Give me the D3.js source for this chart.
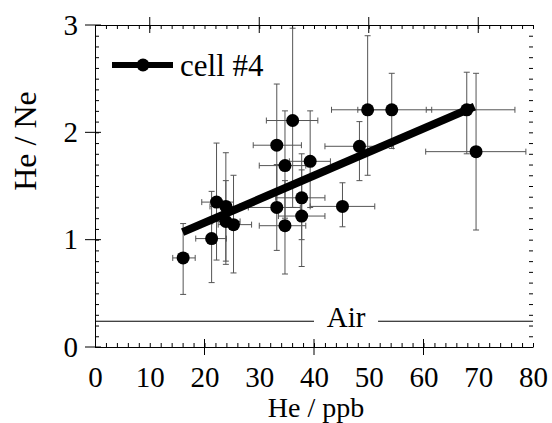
<!DOCTYPE html>
<html>
<head>
<meta charset="utf-8">
<title>He / Ne vs He</title>
<script src="https://d3js.org/d3.v7.min.js"></script>
<style>
  body { margin: 0; background: #fff; }
</style>
</head>
<body>
<svg id="chart" width="552" height="423" style="font-family: 'Liberation Serif', 'DejaVu Serif', serif;"></svg>
<script>
  // data (cell #4)
  let hePpb  = [16.1, 21.3, 22.2, 23.9, 23.9, 25.3, 33.2, 36.1, 34.7, 39.3, 37.75, 33.2, 37.75, 34.7, 45.2, 48.3, 49.8, 54.2, 67.9, 69.6];
  let heNe   = [0.83, 1.01, 1.35, 1.31, 1.17, 1.14, 1.88, 2.11, 1.69, 1.73, 1.39, 1.30, 1.22, 1.13, 1.31, 1.87, 2.21, 2.21, 2.21, 1.82];
  let xLow   = [14.2, 18.4, 19.5, 21.0, 21.5, 22.5, 28.9, 31.3, 30.0, 35.5, 33.0, 28.0, 33.5, 30.0, 39.3, 42.0, 43.2, 48.0, 60.5, 60.4];
  let xHigh  = [18.3, 24.0, 25.3, 26.5, 26.5, 28.6, 37.7, 40.7, 38.5, 43.0, 42.0, 37.5, 42.0, 38.5, 51.1, 54.5, 55.0, 61.5, 76.7, 78.7];
  let yLow   = [0.49, 0.60, 0.81, 0.77, 0.80, 0.69, 1.30, 1.30, 1.20, 1.30, 1.00, 0.90, 0.75, 0.68, 1.12, 1.55, 1.60, 1.85, 1.80, 1.09];
  let yHigh  = [1.15, 1.45, 1.90, 1.81, 1.55, 1.60, 2.45, 2.97, 2.20, 2.20, 1.80, 1.70, 1.65, 1.55, 1.53, 2.10, 2.90, 2.55, 2.56, 2.55];

  // fitted line end points
  let fitX = [16.0, 69.3];
  let fitY = [1.07, 2.24];

  // air value
  let airRatio = 0.24;
  let airGap = [40, 51.7];

  let xTicks = [0, 10, 20, 30, 40, 50, 60, 70, 80];
  let yTicks = [0, 1, 2, 3];

  const serif = "'Liberation Serif', 'DejaVu Serif', serif";

  let svg = d3.select("#chart");
  let margin = { top: 25, right: 19, bottom: 76, left: 95 };
  let plotWidth = 552 - margin.left - margin.right;
  let plotHeight = 423 - margin.top - margin.bottom;

  let x = d3.scaleLinear().domain([0, 80]).range([0, plotWidth]);
  let y = d3.scaleLinear().domain([0, 3]).range([plotHeight, 0]);

  let plot = svg.append("g").attr("transform", translate(margin.left, margin.top));

  // minor ticks all round
  let minorX = d3.range(0, 80.01, 2);
  let minorY = d3.range(0, 3.001, 0.1);

  plot.append("g").attr("transform", translate(0, plotHeight))
    .call(d3.axisBottom(x).tickValues(minorX).tickSizeInner(-4).tickSizeOuter(0).tickFormat(""));
  plot.append("g")
    .call(d3.axisTop(x).tickValues(minorX).tickSizeInner(-4).tickSizeOuter(0).tickFormat(""));
  plot.append("g")
    .call(d3.axisLeft(y).tickValues(minorY).tickSizeInner(-4).tickSizeOuter(0).tickFormat(""));
  let right = plot.append("g").attr("transform", translate(plotWidth, 0))
    .call(d3.axisRight(y).tickValues(minorY).tickSizeInner(-4).tickSizeOuter(0).tickFormat(""));
  right.select(".domain").remove();

  // major crossing ticks
  let majBottom = [20, 40, 60];
  let majTop = [10, 30, 50, 70];
  plot.selectAll(".majb").data(majBottom).enter().append("line")
    .attr("x1", d => x(d)).attr("x2", d => x(d))
    .attr("y1", plotHeight - 8).attr("y2", plotHeight + 8).attr("stroke", "#000");
  plot.selectAll(".majt").data(majTop).enter().append("line")
    .attr("x1", d => x(d)).attr("x2", d => x(d))
    .attr("y1", -8).attr("y2", 8).attr("stroke", "#000");
  plot.selectAll(".majl").data(yTicks).enter().append("line")
    .attr("x1", -10).attr("x2", 6)
    .attr("y1", d => y(d)).attr("y2", d => y(d)).attr("stroke", "#000");

  plot.selectAll(".domain").attr("stroke", "#000");
  plot.selectAll(".tick line").attr("stroke", "#000");

  // tick labels
  let xLab = plot.append("g").attr("transform", translate(0, plotHeight))
    .call(d3.axisBottom(x).tickValues(xTicks).tickSize(0).tickPadding(19).tickFormat(d3.format("d")));
  xLab.select(".domain").remove();
  let yLab = plot.append("g")
    .call(d3.axisLeft(y).tickValues(yTicks).tickSize(0).tickPadding(17).tickFormat(d3.format("d")));
  yLab.select(".domain").remove();
  plot.selectAll("g").attr("font-family", serif).attr("font-size", null);
  plot.selectAll(".tick text")
    .style("font-family", serif).style("font-size", "29px").attr("fill", "#000");

  // axis titles
  svg.append("text")
    .attr("x", margin.left + x(40) + 2).attr("y", 417)
    .attr("text-anchor", "middle")
    .style("font-family", serif).style("font-size", "28px")
    .text("He / ppb");
  svg.append("text")
    .attr("transform", "translate(36," + 141 + ") rotate(-90)")
    .attr("text-anchor", "middle")
    .style("font-family", serif).style("font-size", "32px")
    .text("He / Ne");

  // air line with gap for the label
  plot.append("line")
    .attr("x1", x(0)).attr("x2", x(airGap[0]))
    .attr("y1", y(airRatio)).attr("y2", y(airRatio)).attr("stroke", "#000");
  plot.append("line")
    .attr("x1", x(airGap[1])).attr("x2", x(80))
    .attr("y1", y(airRatio)).attr("y2", y(airRatio)).attr("stroke", "#000");
  plot.append("text")
    .attr("x", (x(airGap[0]) + x(airGap[1])) / 2).attr("y", y(airRatio) + 6)
    .attr("text-anchor", "middle")
    .style("font-family", serif).style("font-size", "29px")
    .text("Air");

  // error bars
  let pts = hePpb.map((d, i) => ({ x: d, y: heNe[i], x0: xLow[i], x1: xHigh[i], y0: yLow[i], y1: yHigh[i] }));
  let err = plot.append("g").attr("stroke", "#555").attr("stroke-width", 1);
  err.selectAll(".ex").data(pts).enter().append("path")
    .attr("d", d => "M" + x(d.x0) + "," + (y(d.y) - 3) + "v6" +
                    "M" + x(d.x0) + "," + y(d.y) + "H" + x(d.x1) +
                    "M" + x(d.x1) + "," + (y(d.y) - 3) + "v6");
  err.selectAll(".ey").data(pts).enter().append("path")
    .attr("d", d => "M" + (x(d.x) - 3) + "," + y(d.y0) + "h6" +
                    "M" + x(d.x) + "," + y(d.y0) + "V" + y(d.y1) +
                    "M" + (x(d.x) - 3) + "," + y(d.y1) + "h6");

  // fit line
  plot.append("line")
    .attr("x1", x(fitX[0])).attr("y1", y(fitY[0]))
    .attr("x2", x(fitX[1])).attr("y2", y(fitY[1]))
    .attr("stroke", "#000").attr("stroke-width", 8);

  // points
  plot.selectAll(".pt").data(pts).enter().append("circle")
    .attr("cx", d => x(d.x)).attr("cy", d => y(d.y)).attr("r", 6.5)
    .attr("fill", "#000");

  // legend
  let leg = svg.append("g");
  leg.append("line").attr("x1", 112).attr("x2", 173).attr("y1", 65).attr("y2", 65)
    .attr("stroke", "#000").attr("stroke-width", 6);
  leg.append("circle").attr("cx", 143).attr("cy", 65).attr("r", 6.5).attr("fill", "#000");
  leg.append("text").attr("x", 180).attr("y", 76)
    .style("font-family", serif).style("font-size", "31px").text("cell #4");

  function translate(a, b) {
    return "translate(" + a + "," + b + ")";
  }
</script>
</body>
</html>
